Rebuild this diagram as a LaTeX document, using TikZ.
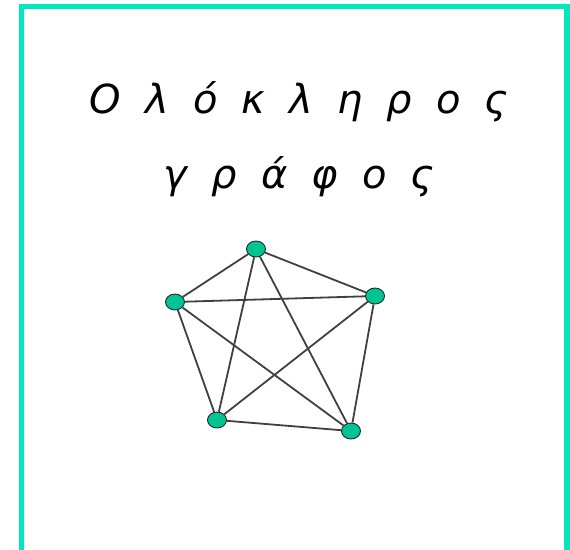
\documentclass[tikz,border=0pt]{standalone}
\usepackage{fontspec}
\usetikzlibrary{shapes.geometric}
\newfontfamily\greektitle[WordSpace=1.9]{DejaVu Sans}
\definecolor{frameteal}{RGB}{0,232,190}
\definecolor{vertexteal}{RGB}{0,196,146}
\tikzset{
  vertex/.style={ellipse, draw=black!85, fill=vertexteal, line width=0.9pt, minimum width=19pt, minimum height=16pt, inner sep=0pt},
  edge/.style={line width=1.8pt, black!75},
  titletext/.style={anchor=base, font=\greektitle\itshape\fontsize{40}{40}\selectfont}
}
\begin{document}
\begin{tikzpicture}[x=1pt,y=-1pt]
\useasboundingbox (0,0) rectangle (570,549);
\clip (0,0) rectangle (570,549);
\draw[frameteal, line width=5.5pt] (21.5,6.5) rectangle (567,580);
\node[titletext] (line1) at (299,113) {Ο λ ό κ λ η ρ ο ς};
\node[titletext] (line2) at (299,188) {γ ρ ά φ ο ς};
\node[vertex] (top) at (256,249) {};
\node[vertex] (right) at (375,296) {};
\node[vertex] (left) at (175,302) {};
\node[vertex] (botleft) at (217,420) {};
\node[vertex] (botright) at (351,431) {};
\foreach \a/\b in {top/right, top/left, top/botleft, top/botright, right/left, right/botleft, right/botright, left/botleft, left/botright, botleft/botright}
  \draw[edge] (\a) -- (\b);
\end{tikzpicture}
\end{document}
